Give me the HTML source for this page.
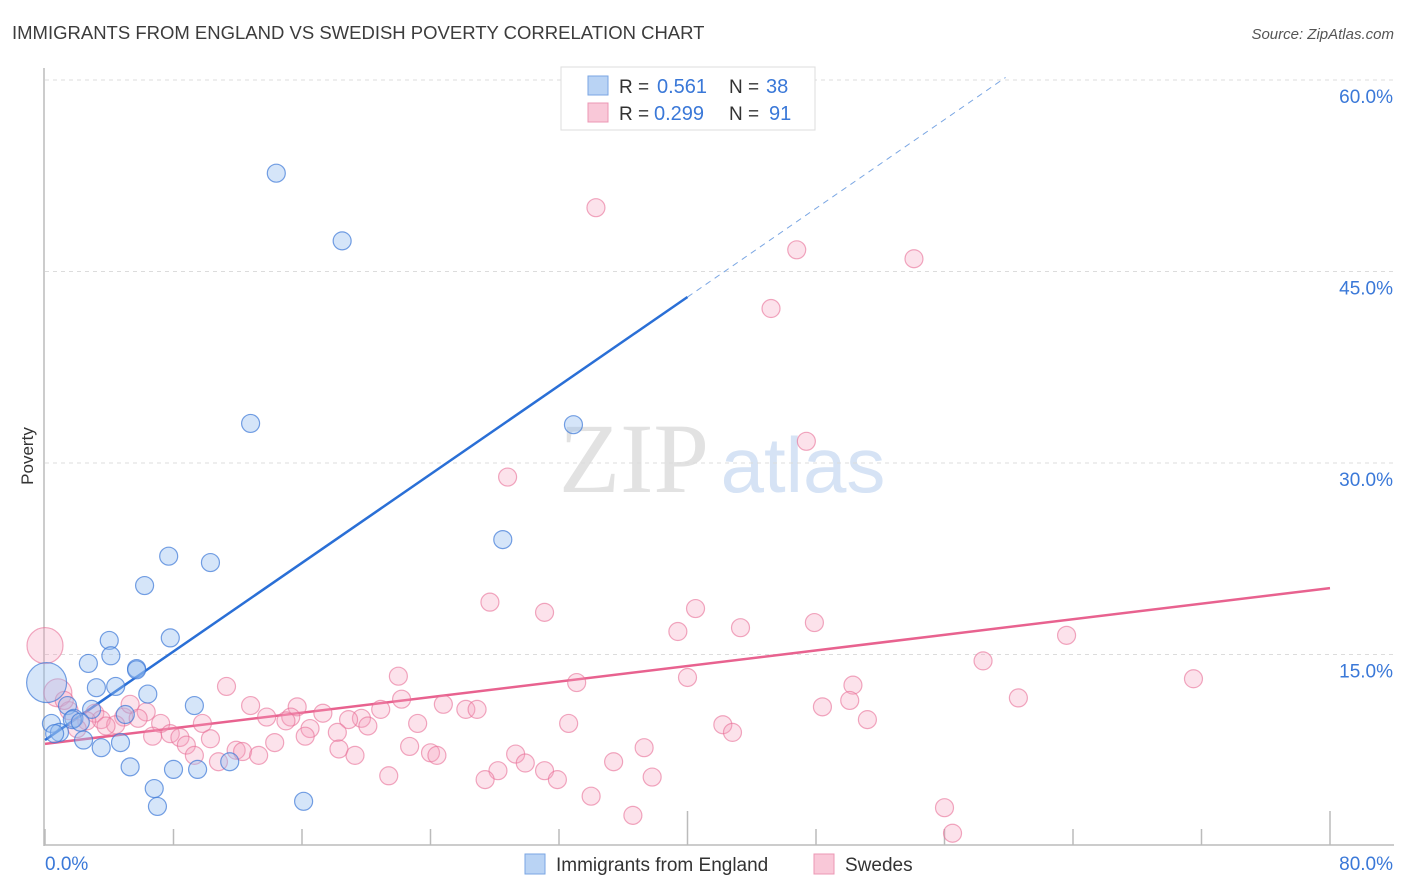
<!DOCTYPE html>
<html><head><meta charset="utf-8">
<style>
body{margin:0;background:#fff;font-family:"Liberation Sans",sans-serif;}
svg{display:block}
</style></head>
<body>
<svg id="chart" width="1406" height="892" xmlns="http://www.w3.org/2000/svg">
<text x="12" y="39" font-size="18.5" fill="#3c3c3c">IMMIGRANTS FROM ENGLAND VS SWEDISH POVERTY CORRELATION CHART</text>
<text x="1394" y="39" font-size="15" fill="#555" text-anchor="end" font-style="italic">Source: ZipAtlas.com</text>
<text x="0" y="0" transform="translate(33,456) rotate(-90)" font-size="17" fill="#333" text-anchor="middle">Poverty</text>
<g>
<text x="634" y="492" font-size="100" font-family="Liberation Serif,serif" fill="#e2e2e2" text-anchor="middle">ZIP</text>
<text x="803" y="492" font-size="78" fill="#d6e3f5" text-anchor="middle">atlas</text>
</g>
<g id="grid"></g>
<g id="axes"></g>
<g id="trend"></g>
<g id="pts"></g>
<g>
<rect x="561" y="67" width="254" height="63" fill="#fff" stroke="#ddd"/>
<rect x="588" y="76" width="20" height="19" fill="#b9d3f4" stroke="#7aa6e3"/>
<rect x="588" y="103" width="20" height="19" fill="#f9c8d8" stroke="#ec97b4"/>
<text x="619" y="93" font-size="19" fill="#333">R = </text><text x="657" y="93" font-size="20" fill="#3a78d8">0.561</text>
<text x="729" y="93" font-size="19" fill="#333">N = </text><text x="766" y="93" font-size="20" fill="#3a78d8">38</text>
<text x="619" y="120" font-size="19" fill="#333">R = </text><text x="654" y="120" font-size="20" fill="#3a78d8">0.299</text>
<text x="729" y="120" font-size="19" fill="#333">N = </text><text x="769" y="120" font-size="20" fill="#3a78d8">91</text>
</g>
<g>
<rect x="525" y="854" width="20" height="20" fill="#b9d3f4" stroke="#7aa6e3"/>
<text x="556" y="871" font-size="19" fill="#333">Immigrants from England</text>
<rect x="814" y="854" width="20" height="20" fill="#f9c8d8" stroke="#ec97b4"/>
<text x="845" y="871" font-size="19" fill="#333">Swedes</text>
</g>
</svg>
<script>
const yTicks=[15,30,45,60];
const yTickLabels=["15.0%","30.0%","45.0%","60.0%"];
const xLabels=["0.0%","80.0%"];
const englandX=[14.4,18.5,12.8,32.9,28.5,7.7,10.3,6.2,4.0,7.8,4.1,5.7,2.7,3.2,4.4,6.4,9.3,1.4,2.9,5.0,1.8,1.7,0.4,2.2,0.9,0.6,2.4,4.7,3.5,11.5,5.3,8.0,9.5,6.8,7.0,16.1,5.7,0.1];
const englandY=[52.7,47.4,33.1,33.0,24.0,22.7,22.2,20.4,16.1,16.3,14.9,13.9,14.3,12.4,12.5,11.9,11.0,11.0,10.7,10.3,10.0,9.9,9.6,9.7,8.9,8.8,8.3,8.1,7.7,6.6,6.2,6.0,6.0,4.5,3.1,3.5,13.8,12.8];
const englandR=[9,9,9,9,9,9,9,9,9,9,9,9,9,9,9,9,9,9,9,9,9,9,9,9,9,9,9,9,9,9,9,9,9,9,9,9,9,20];
const swedesX=[0,0.8,34.3,46.8,54.1,45.2,47.4,28.8,27.7,31.1,40.5,39.4,43.3,47.9,63.6,58.4,22.0,33.1,40.0,50.3,71.5,11.3,60.6,22.2,50.1,48.4,12.8,15.7,24.8,26.2,26.9,20.9,17.3,19.7,15.3,13.8,15.0,18.9,51.2,4.9,5.3,6.3,3.1,3.5,4.4,7.2,9.8,23.2,32.6,42.2,42.8,20.1,16.5,18.2,7.8,6.7,8.4,16.2,8.8,10.3,14.3,22.7,11.9,12.3,18.3,24.0,24.4,37.3,9.3,13.3,29.3,19.3,10.8,29.9,35.4,28.2,31.1,21.4,27.4,31.9,37.8,34.0,36.6,56.0,56.5,1.5,2.6,3.8,5.8,2.0,1.2];
const swedesY=[15.7,12.0,50.0,46.7,46.0,42.1,31.7,28.9,19.1,18.3,18.6,16.8,17.1,17.5,16.5,14.5,13.3,12.8,13.2,12.6,13.1,12.5,11.6,11.5,11.4,10.9,11.0,10.9,11.1,10.7,10.7,10.7,10.4,10.0,10.1,10.1,9.8,9.9,9.9,10.1,11.1,10.5,10.4,9.9,9.5,9.6,9.6,9.6,9.6,9.5,8.9,9.4,9.2,8.9,8.8,8.6,8.5,8.6,7.9,8.4,8.1,7.8,7.5,7.4,7.6,7.3,7.1,7.7,7.1,7.1,7.2,7.1,6.6,6.5,6.6,5.9,5.9,5.5,5.2,5.2,5.4,3.9,2.4,3.0,1.0,10.6,9.8,9.4,10.0,9.2,11.4];
const englandTrend=[0,8.3,40,43.0,59.8,60.2];
const swedesTrend=[0,8.0,80,20.2];

const NS="http://www.w3.org/2000/svg";
const X=v=>45+v/80*1285;
const Y=v=>846-v*191.5/15;
function mk(tag,attrs,parent){const e=document.createElementNS(NS,tag);for(const k in attrs)e.setAttribute(k,attrs[k]);parent.appendChild(e);return e;}
const grid=document.getElementById('grid'),axes=document.getElementById('axes'),trend=document.getElementById('trend'),pts=document.getElementById('pts');
yTicks.forEach((t,i)=>{
 const l=mk('line',{x1:45,x2:1394,y1:Y(t),y2:Y(t),stroke:'#dcdcdc','stroke-dasharray':'4,4'},grid);
 
 
 const tx=mk('text',{x:1393,y:Y(t)+23,'font-size':19,fill:'#3a78d8','text-anchor':'end'},grid);
 tx.textContent=yTickLabels[i];
 
 
});
const ax=mk('line',{x1:44,x2:44,y1:68,y2:846,stroke:'#bbb','stroke-width':1.5},axes);


const bx=mk('line',{x1:44,x2:1394,y1:845,y2:845,stroke:'#bbb','stroke-width':1.5},axes);


for(let i=0;i<=10;i++){
 const v=i*8;const tall=(i==5||i==10);
 const t=mk('line',{x1:X(v),x2:X(v),y1:tall?811:829,y2:845,stroke:'#bbb','stroke-width':1.5},axes);
 
 
}
[[0,'start',45],[80,'end',1393]].forEach((a,i)=>{
 const t=mk('text',{x:a[2],y:870,'font-size':19,fill:'#3a78d8','text-anchor':a[1]},axes);
 t.textContent=xLabels[i];
 
 
});
const bt=mk('line',{x1:X(englandTrend[0]),y1:Y(englandTrend[1]),x2:X(englandTrend[2]),y2:Y(englandTrend[3]),stroke:'#2a6fd6','stroke-width':2.5},trend);


const bd=mk('line',{x1:X(englandTrend[2]),y1:Y(englandTrend[3]),x2:X(englandTrend[4]),y2:Y(englandTrend[5]),stroke:'#7aa6e3','stroke-width':1,'stroke-dasharray':'6,5'},trend);


const pt=mk('line',{x1:X(swedesTrend[0]),y1:Y(swedesTrend[1]),x2:X(swedesTrend[2]),y2:Y(swedesTrend[3]),stroke:'#e8628f','stroke-width':2.5},trend);


swedesX.forEach((x,i)=>{
 const r=i==0?18:(i==1?14:9);
 const c=mk('circle',{cx:X(x),cy:Y(swedesY[i]),r:r,fill:'rgba(244,160,189,0.3)',stroke:'rgba(232,110,150,0.6)','stroke-width':1.2},pts);
 
 
});
englandX.forEach((x,i)=>{
 const c=mk('circle',{cx:X(x),cy:Y(englandY[i]),r:englandR[i],fill:'rgba(150,190,240,0.4)',stroke:'rgba(60,120,215,0.7)','stroke-width':1.2},pts);
 
 
});
</script>
</body></html>
